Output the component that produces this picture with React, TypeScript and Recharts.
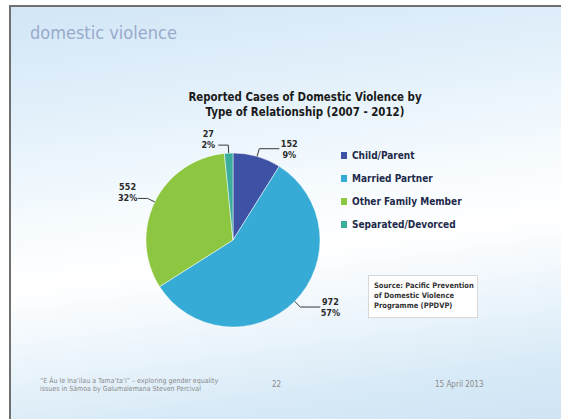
import React from 'react';
import { PieChart, Pie, Cell } from 'recharts';

const categories = ['Child/Parent', 'Married Partner', 'Other Family Member', 'Separated/Devorced'];
const cases = [152, 972, 552, 27];
const sliceColors = ['#3d52a4', '#36abd6', '#8dc641', '#3aad9d'];

const chartTitle = ['Reported Cases of Domestic Violence by', 'Type of Relationship (2007 - 2012)'];
const slideTitle = 'domestic violence';
const sourceLines = ['Source: Pacific Prevention', 'of Domestic Violence', 'Programme (PPDVP)'];
const footerLeft = ['\u201CE \u00C2u le Ina\u2018ilau a Tama\u2018ta\u2018i\u201D \u2013 exploring gender equality', 'issues in S\u0101moa by Galumalemana Steven Percival'];
const footerPage = '22';
const footerDate = '15 April 2013';

const data = categories.map((name, i) => ({ name, value: cases[i] }));

const FONT = '"DejaVu Sans Condensed", "DejaVu Sans", sans-serif';

const renderLabel = (props: any) => {
  const { cx, cy, midAngle, outerRadius, value, percent } = props;
  const RAD = Math.PI / 180;
  const c = Math.cos(-midAngle * RAD);
  const s = Math.sin(-midAngle * RAD);
  const sx = cx + outerRadius * c;
  const sy = cy + outerRadius * s;
  const mx = cx + (outerRadius + 8) * c;
  const my = cy + (outerRadius + 8) * s;
  const dir = c >= 0 ? 1 : -1;
  const ex = mx + dir * (dir > 0 ? 20 : 10);
  const ey = my;
  const tx = ex + dir * 10;
  const shift = dir < 0 ? -6 : 0;
  return (
    <g>
      <polyline points={`${sx},${sy} ${mx},${my} ${ex},${ey}`} stroke="#3a3a3a" strokeWidth={1} fill="none" />
      <text x={tx} y={ey - 2 + shift} textAnchor="middle" fontSize={9} fontWeight="bold" fill="#2a2a2a" fontFamily={FONT}>
        {value}
      </text>
      <text x={tx} y={ey + 9 + shift} textAnchor="middle" fontSize={9} fontWeight="bold" fill="#2a2a2a" fontFamily={FONT}>
        {`${Math.round(percent * 100)}%`}
      </text>
    </g>
  );
};

export default function App() {
  return (
    <div
      style={{
        position: 'absolute',
        left: 0,
        top: 0,
        width: 561,
        height: 419,
        overflow: 'hidden',
        background: '#ffffff',
      }}
    >
      <div
        style={{
          position: 'absolute',
          left: 9,
          top: 5,
          width: 552,
          height: 414,
          borderTop: '2px solid #707070',
          borderLeft: '2px solid #707070',
          boxSizing: 'border-box',
          background:
            'linear-gradient(172deg, #d2e6f6 0%, #e4f1fb 25%, #f6fbfe 45%, #ffffff 58%, #eef6fc 72%, #d8eaf7 88%, #cfe4f4 100%)',
        }}
      />
      <div
        style={{
          position: 'absolute',
          left: 30,
          top: 22,
          fontFamily: FONT,
          fontSize: 18,
          color: '#98aacb',
          whiteSpace: 'nowrap',
        }}
      >
        {slideTitle}
      </div>
      <div style={{ position: 'absolute', left: 0, top: 0 }}>
        <PieChart width={561} height={419} margin={{ top: 0, right: 0, bottom: 0, left: 0 }}>
          <text x={305} y={101} textAnchor="middle" fontSize={11.4} fontWeight="bold" fill="#1a1a1a" fontFamily={FONT}>
            {chartTitle[0]}
          </text>
          <text x={305} y={116} textAnchor="middle" fontSize={11.4} fontWeight="bold" fill="#1a1a1a" fontFamily={FONT}>
            {chartTitle[1]}
          </text>
          <Pie
            data={data}
            dataKey="value"
            nameKey="name"
            cx={233}
            cy={240}
            outerRadius={87}
            startAngle={90}
            endAngle={-270}
            stroke="#ffffff"
            strokeWidth={0.5}
            label={renderLabel}
            labelLine={false}
            isAnimationActive={false}
          >
            {data.map((d, i) => (
              <Cell key={d.name} fill={sliceColors[i]} />
            ))}
          </Pie>
        </PieChart>
      </div>
      <div
        style={{
          position: 'absolute',
          left: 341,
          top: 144,
          fontFamily: FONT,
          fontSize: 10,
          fontWeight: 'bold',
          color: '#1e2a4a',
        }}
      >
        {categories.map((c, i) => (
          <div key={c} style={{ display: 'flex', alignItems: 'center', height: 23, whiteSpace: 'nowrap' }}>
            <span
              style={{
                display: 'inline-block',
                flexShrink: 0,
                width: 6,
                height: 7,
                background: sliceColors[i],
                marginRight: 5,
              }}
            />
            <span>{c}</span>
          </div>
        ))}
      </div>
      <div
        style={{
          position: 'absolute',
          left: 368,
          top: 275,
          width: 110,
          height: 43,
          boxSizing: 'border-box',
          background: '#ffffff',
          border: '1px solid #d8d8d8',
          padding: '5px 0 0 5px',
          fontFamily: FONT,
          fontSize: 7.5,
          fontWeight: 'bold',
          color: '#333',
          lineHeight: '10px',
        }}
      >
        {sourceLines.map((l) => (
          <div key={l} style={{ whiteSpace: 'nowrap' }}>{l}</div>
        ))}
      </div>
      <div
        style={{
          position: 'absolute',
          left: 40,
          top: 377,
          fontFamily: FONT,
          fontSize: 7,
          color: '#8a8a8a',
          lineHeight: '8px',
        }}
      >
        {footerLeft.map((l) => (
          <div key={l} style={{ whiteSpace: 'nowrap' }}>{l}</div>
        ))}
      </div>
      <div style={{ position: 'absolute', left: 272, top: 380, fontFamily: FONT, fontSize: 8, color: '#8a8a8a' }}>
        {footerPage}
      </div>
      <div style={{ position: 'absolute', left: 435, top: 380, fontFamily: FONT, fontSize: 8, color: '#8a8a8a', whiteSpace: 'nowrap' }}>
        {footerDate}
      </div>
    </div>
  );
}
